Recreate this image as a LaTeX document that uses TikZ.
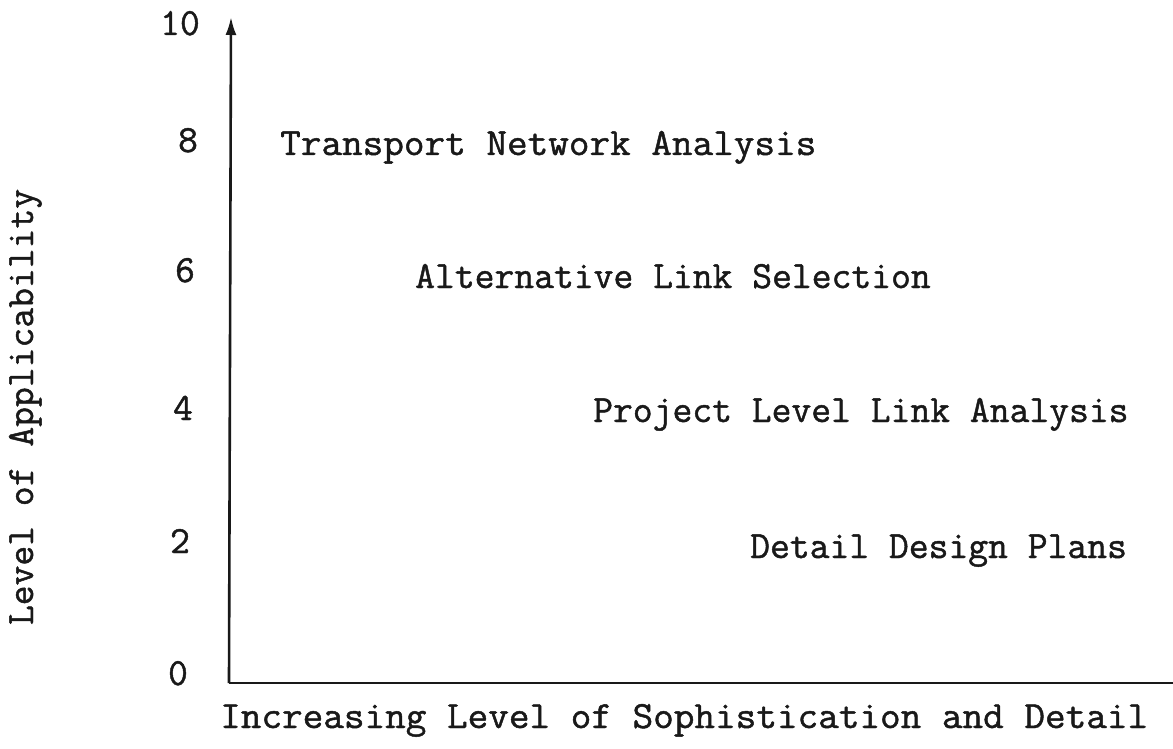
\documentclass[tikz,border=0pt]{standalone}
\usepackage{fontspec}
\newfontfamily\typewriter[FakeBold=1.2]{Latin Modern Mono}
\usetikzlibrary{arrows.meta}
\begin{document}
\begin{tikzpicture}[x=1pt,y=-1pt,
  lbl/.style={inner sep=0pt,font=\typewriter\fontsize{38.5}{44}\selectfont,text=black!90},
  wide/.style={xscale=1.04},
  axisline/.style={line width=2.6pt,black!90}]
\useasboundingbox (0,0) rectangle (1173,749);
% axes
\coordinate (origin) at (229,683);
\coordinate (ytop) at (231,17);
\coordinate (xend) at (1173,683);
\draw[axisline,-{Latex[length=18pt,width=11pt]}] (origin) -- (ytop);
\draw[axisline] (origin) -- (xend);
% tick labels
\node[lbl,anchor=base] (t10) at (180,35) {10};
\node[lbl,anchor=base] (t8) at (188,152) {8};
\node[lbl,anchor=base] (t6) at (185,282) {6};
\node[lbl,anchor=base] (t4) at (183,420) {4};
\node[lbl,anchor=base] (t2) at (180,553) {2};
\node[lbl,anchor=base] (t0) at (178,685) {0};
% entries
\node[lbl,wide,anchor=base west] (tna) at (280,155) {Transport Network Analysis};
\node[lbl,anchor=base west] (als) at (415,288) {Alternative Link Selection};
\node[lbl,anchor=base west] (pla) at (593,422) {Project Level Link Analysis};
\node[lbl,anchor=base west] (ddp) at (750,558) {Detail Design Plans};
% axis titles
\node[lbl,wide,anchor=base west] (xtitle) at (220,728) {Increasing Level of Sophistication and Detail};
\node[lbl,anchor=base,rotate=90] (ytitle) at (33,407) {Level of Applicability};
\end{tikzpicture}
\end{document}
